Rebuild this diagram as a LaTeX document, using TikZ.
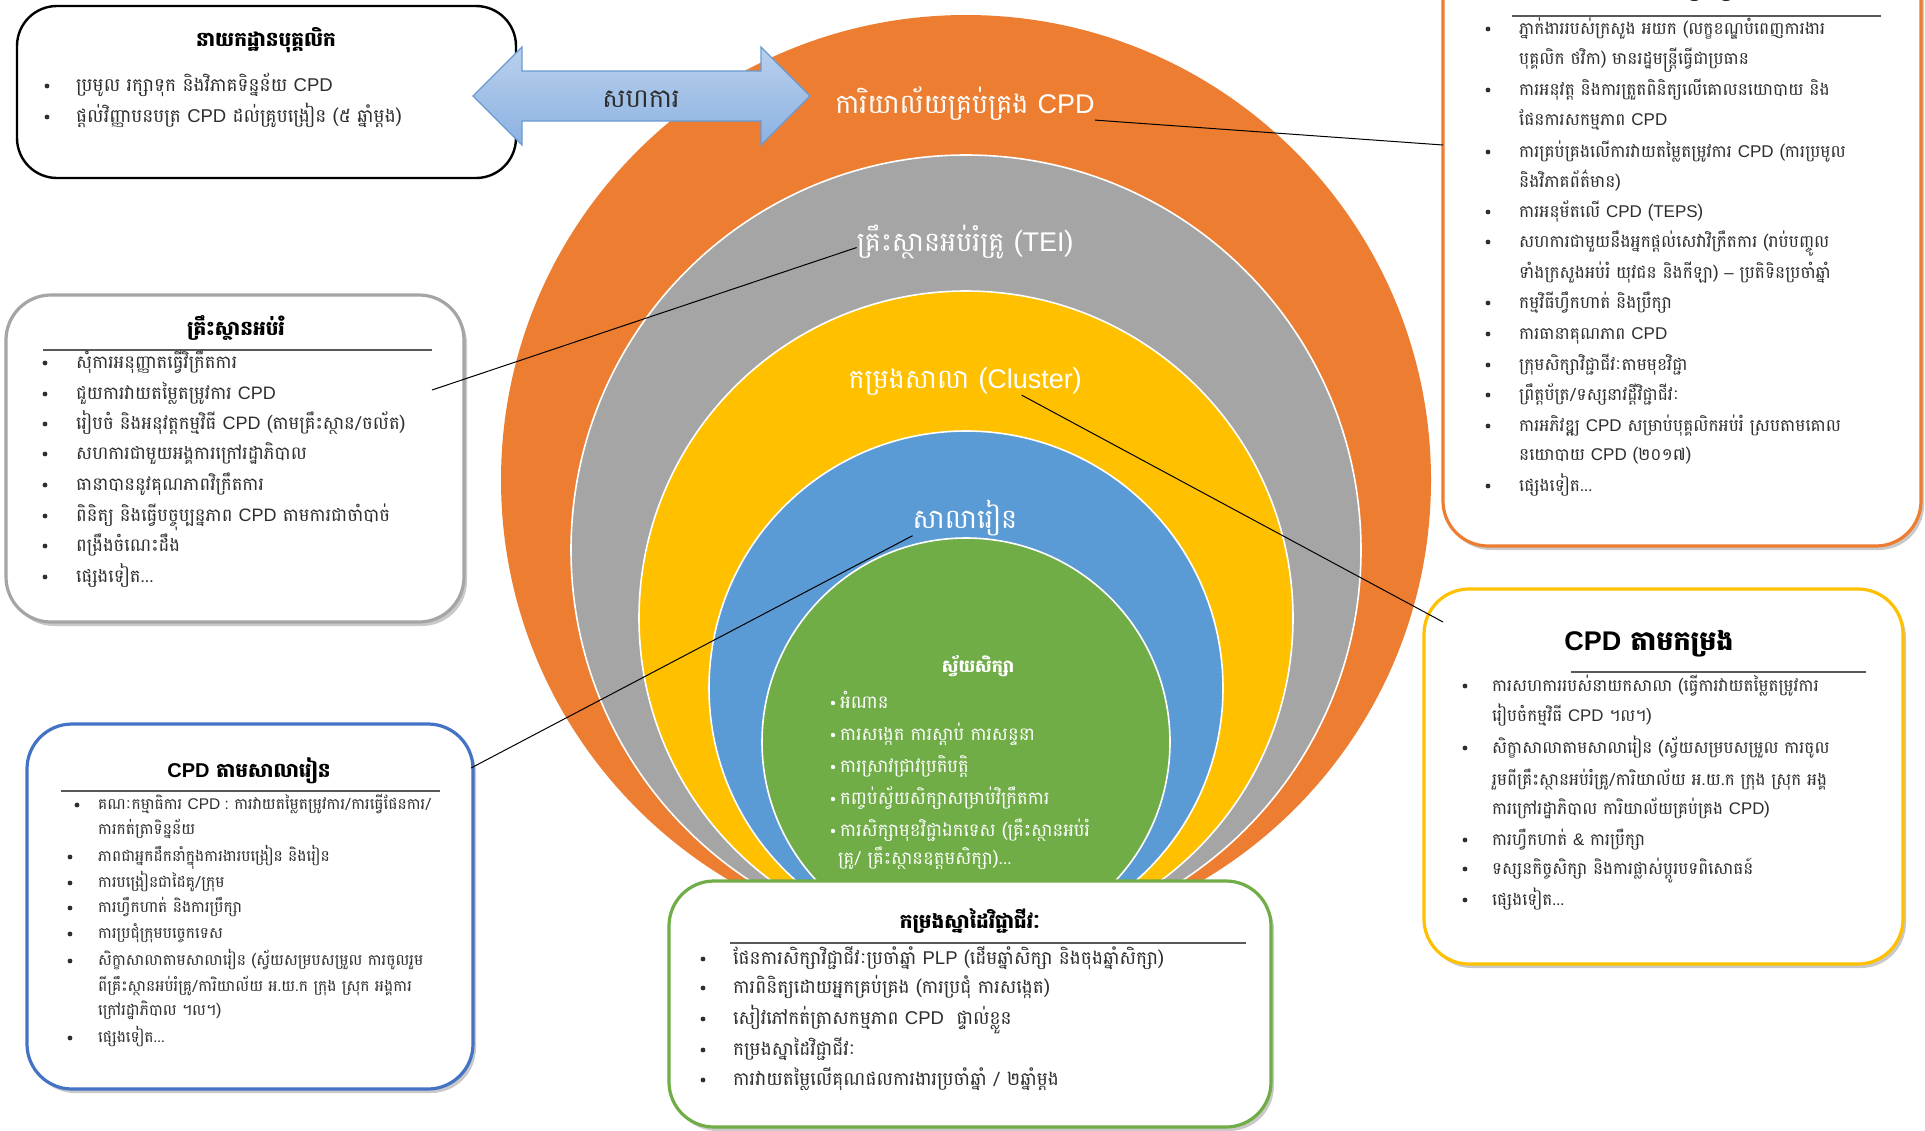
\documentclass[tikz,border=0pt]{standalone}
\usepackage{fontspec}
\setmainfont[Script=Khmer]{Battambang}
\newfontfamily\latf{Liberation Sans}
\newcommand\lt[1]{{\latf #1}}
\usetikzlibrary{shadows}
\definecolor{cOr}{HTML}{ED7D31}
\definecolor{cGr}{HTML}{A5A5A5}
\definecolor{cYe}{HTML}{FFC000}
\definecolor{cBl}{HTML}{5B9BD5}
\definecolor{cGn}{HTML}{70AD47}
\definecolor{cBd}{HTML}{4472C4}
\definecolor{cTx}{HTML}{2E2E2E}
\definecolor{arTop}{HTML}{B9D0EC}
\definecolor{arBot}{HTML}{8CB2E2}
\definecolor{arLn}{HTML}{6A9AD4}
\tikzset{
  ring/.style={draw=white, line width=1.6pt},
  card/.style={rectangle, rounded corners=45pt, fill=white, line width=3.2pt, inner sep=0pt,
    drop shadow={shadow xshift=3pt, shadow yshift=-4pt, opacity=0.35, fill=black!60}},
  ttl/.style={anchor=base, yshift=-7pt, inner sep=0pt, font=\fontsize{#1}{24}\selectfont\bfseries, text=black},
  ttl/.default=20,
  it/.style={anchor=base west, yshift=-5pt, inner sep=0pt, font=\fontsize{#1}{20}\selectfont, text=cTx},
  it/.default=17,
  clbl/.style={anchor=base, yshift=-9pt, inner sep=0pt, font=\fontsize{27}{30}\selectfont, text=white},
  git/.style={anchor=base west, yshift=-5pt, inner sep=0pt, font=\fontsize{18}{20}\selectfont, text=white},
  uline/.style={draw=black!65, line width=1.3pt},
  conn/.style={draw=black, line width=1pt},
}
\newcommand\bu[2]{\fill[cTx] (#1,#2) circle (2.4pt);}
\newcommand\wbu[2]{\fill[white] (#1,#2) circle (2.2pt);}
\begin{document}
\begin{tikzpicture}[x=1pt,y=-1pt]
\useasboundingbox (0,0) rectangle (1925,1130);
\fill[white] (0,0) rectangle (1925,1130);

% ---- nested circles ----
\fill[cOr] (966,480) circle (465pt);
\filldraw[ring, fill=cGr] (966,550) circle (395pt);
\filldraw[ring, fill=cYe] (966,618) circle (327pt);
\filldraw[ring, fill=cBl] (966,688) circle (257pt);
\filldraw[ring, fill=cGn] (966,742) circle (204pt);

\node[clbl] (lcpd) at (965,104) {ការិយាល័យគ្រប់គ្រង \lt{CPD}};
\node[clbl] (ltei) at (965,242) {គ្រឹះស្ថានអប់រំគ្រូ (\lt{TEI})};
\node[clbl] (lclu) at (965,379) {កម្រងសាលា (\lt{Cluster})};
\node[clbl] (lsch) at (965,519) {សាលារៀន};

\node[anchor=base, yshift=-7pt, inner sep=0pt, font=\fontsize{17.5}{22}\selectfont\bfseries, text=white] (lself) at (978,665) {ស្វ័យសិក្សា};
\wbu{833}{703}\node[git] (g1) at (840,703) {អំណាន};
\wbu{833}{735}\node[git] (g2) at (840,735) {ការសង្កេត ការស្តាប់ ការសន្ទនា};
\wbu{833}{767}\node[git] (g3) at (840,767) {ការស្រាវជ្រាវប្រតិបត្តិ};
\wbu{833}{799}\node[git] (g4) at (840,799) {កញ្ចប់ស្វ័យសិក្សាសម្រាប់វិក្រឹតការ};
\wbu{833}{831}\node[git] (g5) at (840,831) {ការសិក្សាមុខវិជ្ជាឯកទេស (គ្រឹះស្ថានអប់រំ};
\node[git] (g6) at (838,859) {គ្រូ/ គ្រឹះស្ថានឧត្តមសិក្សា)...};

% ---- top-left box ----
\node[rectangle, rounded corners=40pt, draw=black, line width=2.4pt, fill=white,
      minimum width=499pt, minimum height=172pt, inner sep=0pt] (bdep) at (266.5,92) {};
\node[ttl] (tdep) at (266,39) {នាយកដ្ឋានបុគ្គលិក};
\bu{47}{86}\node[it=18.5] (d1) at (76,86) {ប្រមូល រក្សាទុក និងវិភាគទិន្នន័យ \lt{CPD}};
\bu{47}{117}\node[it=18.5] (d2) at (76,117) {ផ្តល់វិញ្ញាបនបត្រ \lt{CPD} ដល់គ្រូបង្រៀន (៥ ឆ្នាំម្តង)};

% ---- double arrow (over the box) ----
\path[draw=arLn, line width=1.2pt, top color=arTop, bottom color=arBot]
  (473,96) -- (522,47) -- (522,71) -- (761,71) -- (761,47) -- (810,96)
  -- (761,145) -- (761,121) -- (522,121) -- (522,145) -- cycle;
\node[anchor=base, yshift=-9pt, inner sep=0pt, font=\fontsize{26}{30}\selectfont, text=cTx] (collab) at (641,98) {សហការ};

% ---- gray box (institutions) ----
\node[card, draw=cGr, minimum width=458pt, minimum height=327pt] (bins) at (235,458.5) {};
\node[ttl] (tins) at (236,328) {គ្រឹះស្ថានអប់រំ};
\draw[uline] (43,350) -- (432,350);
\bu{45}{363}\node[it=18] (i1) at (76,363) {សុំការអនុញ្ញាតធ្វើវិក្រឹតការ};
\bu{45}{394}\node[it=18] (i2) at (76,394) {ជួយការវាយតម្លៃតម្រូវការ \lt{CPD}};
\bu{45}{424}\node[it=18] (i3) at (76,424) {រៀបចំ និងអនុវត្តកម្មវិធី \lt{CPD} (តាមគ្រឹះស្ថាន/ចល័ត)};
\bu{45}{454}\node[it=18] (i4) at (76,454) {សហការជាមួយអង្គការក្រៅរដ្ឋាភិបាល};
\bu{45}{485}\node[it=18] (i5) at (76,485) {ធានាបាននូវគុណភាពវិក្រឹតការ};
\bu{45}{516}\node[it=18] (i6) at (76,516) {ពិនិត្យ និងធ្វើបច្ចុប្បន្នភាព \lt{CPD} តាមការជាចាំបាច់};
\bu{45}{546}\node[it=18] (i7) at (76,546) {ពង្រឹងចំណេះដឹង};
\bu{45}{577}\node[it=18] (i8) at (76,577) {ផ្សេងទៀត...};

% ---- blue box (school) ----
\node[card, draw=cBd, minimum width=446pt, minimum height=365pt] (bsch) at (250,906.5) {};
\node[ttl] (tsch) at (249,770) {\lt{CPD} តាមសាលារៀន};
\draw[uline] (61,791) -- (440,791);
\bu{77}{805}\node[it=15.5] (s1) at (98,804) {គណៈកម្មាធិការ \lt{CPD :} ការវាយតម្លៃតម្រូវការ/ការធ្វើផែនការ/};
\node[it=15.5] (s1b) at (98,829) {ការកត់ត្រាទិន្នន័យ};
\bu{70}{857}\node[it=15.5] (s2) at (98,856) {ភាពជាអ្នកដឹកនាំក្នុងការងារបង្រៀន និងរៀន};
\bu{70}{883}\node[it=15.5] (s3) at (98,882) {ការបង្រៀនជាដៃគូ/ក្រុម};
\bu{70}{908}\node[it=15.5] (s4) at (98,907) {ការហ្វឹកហាត់ និងការប្រឹក្សា};
\bu{70}{934}\node[it=15.5] (s5) at (98,933) {ការប្រជុំក្រុមបច្ចេកទេស};
\bu{70}{961}\node[it=15.5] (s6) at (98,960) {សិក្ខាសាលាតាមសាលារៀន (ស្វ័យសម្របសម្រួល ការចូលរួម};
\node[it=15.5] (s6b) at (98,986) {ពីគ្រឹះស្ថានអប់រំគ្រូ/ការិយាល័យ អ.យ.ក ក្រុង ស្រុក អង្គការ};
\node[it=15.5] (s6c) at (98,1010) {ក្រៅរដ្ឋាភិបាល ។ល។)};
\bu{70}{1038}\node[it=15.5] (s7) at (98,1037) {ផ្សេងទៀត...};

% ---- green box (portfolio) ----
\node[card, draw=cGn, minimum width=602pt, minimum height=246pt] (bpor) at (970,1004) {};
\node[ttl] (tpor) at (970,921) {កម្រងស្នាដៃវិជ្ជាជីវៈ};
\draw[uline] (730,943) -- (1246,943);
\bu{703}{959}\node[it=18.5] (p1) at (733,959) {ផែនការសិក្សាវិជ្ជាជីវៈប្រចាំឆ្នាំ \lt{PLP} (ដើមឆ្នាំសិក្សា និងចុងឆ្នាំសិក្សា)};
\bu{703}{988}\node[it=18.5] (p2) at (733,988) {ការពិនិត្យដោយអ្នកគ្រប់គ្រង (ការប្រជុំ ការសង្កេត)};
\bu{703}{1019}\node[it=18.5] (p3) at (733,1019) {សៀវភៅកត់ត្រាសកម្មភាព \lt{CPD}\ \ ផ្ទាល់ខ្លួន};
\bu{703}{1050}\node[it=18.5] (p4) at (733,1050) {កម្រងស្នាដៃវិជ្ជាជីវៈ};
\bu{703}{1080}\node[it=18.5] (p5) at (733,1080) {ការវាយតម្លៃលើគុណផលការងារប្រចាំឆ្នាំ / ២ឆ្នាំម្តង};

% ---- orange box (CPD office) ----
\node[card, draw=cOr, minimum width=478pt, minimum height=610pt] (boff) at (1682,241) {};
\node[ttl] (toff) at (1700,-11) {ការិយាល័យគ្រប់គ្រង \lt{CPD}};
\draw[uline] (1512,16) -- (1881,16);
\bu{1488}{29}\node[it] (o1) at (1519,29) {ភ្នាក់ងាររបស់ក្រសួង អយក (លក្ខខណ្ឌបំពេញការងារ};
\node[it] (o1b) at (1519,59) {បុគ្គលិក ថវិកា) មានរដ្ឋមន្ត្រីធ្វើជាប្រធាន};
\bu{1488}{90}\node[it] (o2) at (1519,90) {ការអនុវត្ត និងការត្រួតពិនិត្យលើគោលនយោបាយ និង};
\node[it] (o2b) at (1519,120) {ផែនការសកម្មភាព \lt{CPD}};
\bu{1488}{152}\node[it] (o3) at (1519,152) {ការគ្រប់គ្រងលើការវាយតម្លៃតម្រូវការ \lt{CPD} (ការប្រមូល};
\node[it] (o3b) at (1519,182) {និងវិភាគព័ត៌មាន)};
\bu{1488}{212}\node[it] (o4) at (1519,212) {ការអនុម័តលើ \lt{CPD} (\lt{TEPS})};
\bu{1488}{242}\node[it] (o5) at (1519,242) {សហការជាមួយនឹងអ្នកផ្តល់សេវាវិក្រឹតការ (រាប់បញ្ចូល};
\node[it] (o5b) at (1519,273) {ទាំងក្រសួងអប់រំ យុវជន និងកីឡា) \lt{–} ប្រតិទិនប្រចាំឆ្នាំ};
\bu{1488}{303}\node[it] (o6) at (1519,303) {កម្មវិធីហ្វឹកហាត់ និងប្រឹក្សា};
\bu{1488}{334}\node[it] (o7) at (1519,334) {ការធានាគុណភាព \lt{CPD}};
\bu{1488}{365}\node[it] (o8) at (1519,365) {ក្រុមសិក្សាវិជ្ជាជីវៈតាមមុខវិជ្ជា};
\bu{1488}{395}\node[it] (o9) at (1519,395) {ព្រឹត្តប័ត្រ/ទស្សនាវដ្តីវិជ្ជាជីវៈ};
\bu{1488}{426}\node[it] (o10) at (1519,426) {ការអភិវឌ្ឍ \lt{CPD} សម្រាប់បុគ្គលិកអប់រំ ស្របតាមគោល};
\node[it] (o10b) at (1519,455) {នយោបាយ \lt{CPD} (២០១៧)};
\bu{1488}{486}\node[it] (o11) at (1519,486) {ផ្សេងទៀត...};

% ---- yellow box (cluster) ----
\node[card, draw=cYe, minimum width=479pt, minimum height=375pt] (bclu) at (1663.5,776.5) {};
\node[ttl=27, yshift=-3pt] (tclu) at (1649,640) {\lt{CPD} តាមកម្រង};
\draw[uline] (1571,672) -- (1866,672);
\bu{1465}{686}\node[it=16.8] (c1) at (1492,686) {ការសហការរបស់នាយកសាលា (ធ្វើការវាយតម្លៃតម្រូវការ};
\node[it=16.8] (c1b) at (1492,716) {រៀបចំកម្មវិធី \lt{CPD} ។ល។)};
\bu{1465}{748}\node[it=16.8] (c2) at (1492,748) {សិក្ខាសាលាតាមសាលារៀន (ស្វ័យសម្របសម្រួល ការចូល};
\node[it=16.8] (c2b) at (1492,780) {រួមពីគ្រឹះស្ថានអប់រំគ្រូ/ការិយាល័យ អ.យ.ក ក្រុង ស្រុក អង្គ};
\node[it=16.8] (c2c) at (1492,809) {ការក្រៅរដ្ឋាភិបាល ការិយាល័យគ្រប់គ្រង \lt{CPD})};
\bu{1465}{840}\node[it=16.8] (c3) at (1492,840) {ការហ្វឹកហាត់ \lt{\&} ការប្រឹក្សា};
\bu{1465}{869}\node[it=16.8] (c4) at (1492,869) {ទស្សនកិច្ចសិក្សា និងការផ្លាស់ប្តូរបទពិសោធន៍};
\bu{1465}{900}\node[it=16.8] (c5) at (1492,900) {ផ្សេងទៀត...};

% ---- connectors ----
\coordinate (e1) at (1443,145);
\coordinate (e2) at (432,390);
\coordinate (e3) at (1443,622);
\coordinate (e4) at (471,768);
\draw[conn] (lcpd.south east) -- (e1);
\draw[conn] (ltei.west) ++(0,6) -- (e2);
\draw[conn] (lclu.south east) ++(-60,0) -- (e3);
\draw[conn] (lsch.south west) -- (e4);
\end{tikzpicture}
\end{document}
